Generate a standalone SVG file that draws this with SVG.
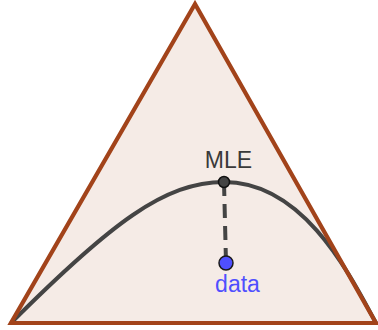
<svg xmlns="http://www.w3.org/2000/svg" width="378" height="330" viewBox="0 0 378 330">
<style>
.lbl{font-family:"Liberation Sans",Arial,sans-serif;font-size:23px;text-anchor:middle}
</style>
<rect width="378" height="330" fill="#ffffff"/>
<g id="simplex">
<polygon points="195,4 11,323 376,323" fill="#f5ebe6" stroke="none"/>
</g>
<g id="connectors">
<path d="M11,323 C111,223 165,182 224,182 C304,182 350,275 376,323" fill="none" stroke="#444444" stroke-width="4"/>
<line x1="224" y1="182" x2="226" y2="263" stroke="#444444" stroke-width="4" stroke-dasharray="14,8"/>
</g>
<g id="edges">
<polygon points="195,4 11,323 376,323" fill="none" stroke="#a2431a" stroke-width="4.2" stroke-linejoin="miter"/>
</g>
<g id="mle">
<circle cx="224" cy="182" r="5.5" fill="#444444" stroke="#111111" stroke-width="1.5"/>
<text class="lbl" x="228.5" y="167.5" fill="#3a3a3a">MLE</text>
</g>
<g id="data">
<circle cx="226" cy="263" r="7" fill="#4f4fff" stroke="#1a1a1a" stroke-width="1.5"/>
<text class="lbl" x="237.5" y="292" fill="#4f4fff">data</text>
</g>
</svg>
